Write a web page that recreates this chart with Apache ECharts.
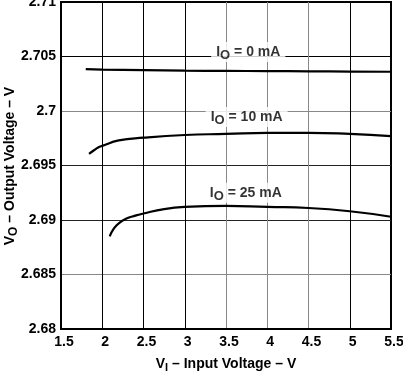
<!DOCTYPE html>
<html><head><meta charset="utf-8">
<script src="https://cdn.jsdelivr.net/npm/echarts@6/dist/echarts.min.js"></script>
<style>html,body{margin:0;padding:0;background:#fff}#c{width:403px;height:372px}</style>
</head><body><div id="c"></div>
<script>
const io0X = [1.8, 2.0, 2.5, 3.0, 3.5, 4.0, 4.5, 5.0, 5.5];
const io0Y = [2.70385, 2.7038, 2.70375, 2.7037, 2.70368, 2.70366, 2.70364, 2.70362, 2.7036];
const io10X = [1.84, 1.9, 1.95, 2.0, 2.2, 2.5, 3.0, 3.5, 4.0, 4.5, 5.0, 5.5];
const io10Y = [2.69606, 2.6964, 2.69665, 2.6968, 2.6973, 2.69755, 2.6978, 2.6979, 2.6980, 2.6980, 2.6979, 2.6977];
const io25X = [2.09, 2.14, 2.2, 2.3, 2.4, 2.5, 2.75, 3.0, 3.5, 4.0, 4.5, 5.0, 5.5];
const io25Y = [2.6885, 2.6892, 2.6897, 2.69015, 2.6904, 2.6906, 2.6910, 2.6912, 2.6913, 2.6912, 2.6911, 2.6908, 2.6903];
const curveNames = ['0', '10', '25'];
const labelX = [3.77, 3.75, 3.74];
const labelY = [2.70541, 2.69945, 2.69249];
const xTicks = [1.5, 5.5, 0.5];
const yTicks = [2.68, 2.71, 0.005];

const zip = (xs, ys) => xs.map((x, i) => [x, ys[i]]);
const font = '"Liberation Sans", Arial, sans-serif';
const curves = [zip(io0X, io0Y), zip(io10X, io10Y), zip(io25X, io25Y)];
const titleRich = {
  a: {fontFamily: font, fontWeight: 'bold', fontSize: 14, fill: '#000', color: '#000'},
  s: {fontFamily: font, fontWeight: 'bold', fontSize: 12, fill: '#000', color: '#000', padding: [7, 0, 0, 0]}
};

const series = curves.map(d => ({
  type: 'line', data: d, smooth: 0.5, symbol: 'none',
  lineStyle: {color: '#000', width: 2.2}, z: 3
}));
series.push({
  type: 'scatter', symbolSize: 0, z: 5,
  data: labelX.map((x, i) => ({value: [x, labelY[i]], name: curveNames[i]})),
  label: {
    show: true, position: 'inside', backgroundColor: '#fff', padding: [0, 5, 0, 5],
    formatter: p => '{i|I}{o|O}{t| = ' + p.name + ' mA}',
    rich: {
      i: {fontFamily: font, fontWeight: 'bold', fontSize: 14, color: '#000'},
      o: {fontFamily: font, fontWeight: 'bold', fontSize: 13, color: '#000', padding: [7, 0, 0, 0]},
      t: {fontFamily: font, fontWeight: 'bold', fontSize: 14, color: '#000'}
    }
  }
});

const chart = echarts.init(document.getElementById('c'), null, {renderer: 'canvas'});
chart.setOption({
  animation: false,
  grid: {left: 61, right: 12, top: 2, bottom: 43, show: true, borderColor: '#000', borderWidth: 2,
         containLabel: false, outerBoundsMode: 'none'},
  graphic: [{
    type: 'text', x: 10, y: 166, rotation: Math.PI / 2,
    style: {text: '{a|V}{s|O}{a| – Output Voltage – V}', rich: titleRich, align: 'center', verticalAlign: 'middle'}
  }],
  xAxis: {
    type: 'value', min: xTicks[0], max: xTicks[1], interval: xTicks[2],
    axisLine: {lineStyle: {color: '#000', width: 2}},
    axisTick: {show: false},
    axisLabel: {color: '#000', fontFamily: font, fontWeight: 'bold', fontSize: 14, margin: 6, padding: [0, 0, 0, 6]},
    splitLine: {lineStyle: {color: ['#000', '#000', '#000', '#000', '#888', '#888', '#888', '#000', '#000'], width: 1}},
    name: '{a|V}{s|I}{a| – Input Voltage – V}', nameLocation: 'middle', nameGap: 26,
    nameTextStyle: {rich: {
      a: {fontFamily: font, fontWeight: 'bold', fontSize: 14, color: '#000'},
      s: {fontFamily: font, fontWeight: 'bold', fontSize: 11, color: '#000', padding: [7, 0, 0, 0]}
    }}
  },
  yAxis: {
    type: 'value', min: yTicks[0], max: yTicks[1], interval: yTicks[2],
    axisLine: {show: true, lineStyle: {color: '#000', width: 2}},
    axisTick: {show: false},
    axisLabel: {color: '#000', fontFamily: font, fontWeight: 'bold', fontSize: 14, margin: 5, padding: [6, 0, 0, 0]},
    splitLine: {lineStyle: {color: ['#000', '#888', '#222', '#222', '#888', '#000', '#000'], width: 1}}
  },
  series: series
});
</script></body></html>
